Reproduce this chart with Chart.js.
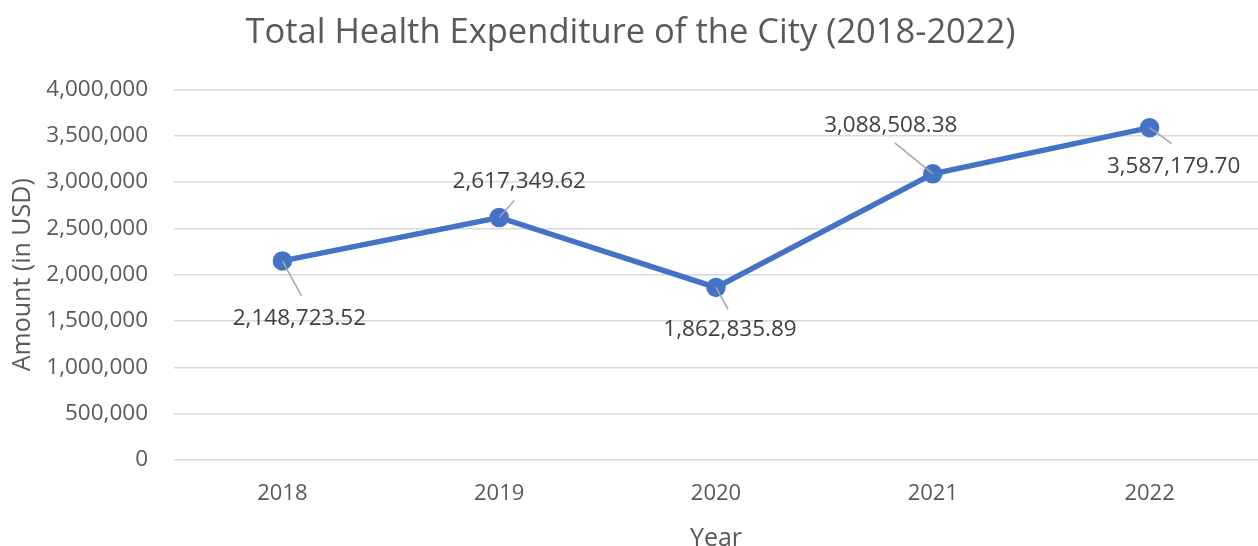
<!DOCTYPE html>
<html>
<head>
<meta charset="utf-8">
<script src="https://cdn.jsdelivr.net/npm/chart.js@4/dist/chart.umd.min.js"></script>
<style>
html,body{margin:0;padding:0;background:#fff;}
#wrap{width:1258px;height:546px;position:relative;}
</style>
</head>
<body>
<div id="wrap"><canvas id="c" width="1258" height="546"></canvas></div>
<script>
const categories = ["2018", "2019", "2020", "2021", "2022"];
const expenditure = [2148723.52, 2617349.62, 1862835.89, 3088508.38, 3587179.70];
const yTicks = [0, 500000, 1000000, 1500000, 2000000, 2500000, 3000000, 3500000, 4000000];

const FONT = "'Open Sans', 'Noto Sans', sans-serif";

// label placement (pixel offsets from point): [dx, dy, lineEndDx, lineEndDy]
const labelPlacement = [
  [17, 58, 19, 35],
  [20, -36, 15, -17],
  [14, 42, 12, 22],
  [-42, -48, -38, -31],
  [24, 39, 22, 16]
];

const labelPlugin = {
  id: 'dataLabels',
  afterDatasetsDraw(chart) {
    const ctx = chart.ctx;
    const meta = chart.getDatasetMeta(0);
    ctx.save();
    meta.data.forEach((pt, i) => {
      const p = labelPlacement[i];
      ctx.strokeStyle = '#a6a6a6';
      ctx.lineWidth = 1.5;
      ctx.beginPath();
      ctx.moveTo(pt.x, pt.y);
      ctx.lineTo(pt.x + p[2], pt.y + p[3]);
      ctx.stroke();
      ctx.fillStyle = '#404040';
      ctx.font = "22.5px " + FONT;
      ctx.textAlign = 'center';
      ctx.textBaseline = 'middle';
      const v = expenditure[i].toLocaleString('en-US', {minimumFractionDigits: 2, maximumFractionDigits: 2});
      ctx.fillText(v, pt.x + p[0], pt.y + p[1]);
    });
    ctx.restore();
  }
};

new Chart(document.getElementById('c'), {
  type: 'line',
  data: {
    labels: categories,
    datasets: [{
      data: expenditure,
      borderColor: '#4472C4',
      backgroundColor: '#4472C4',
      borderWidth: 5.5,
      pointRadius: 7,
      pointBackgroundColor: '#4472C4',
      pointBorderColor: '#4472C4',
      tension: 0,
      clip: false
    }]
  },
  options: {
    responsive: false,
    animation: false,
    layout: { autoPadding: false, padding: { left: 0, right: -3, top: 0, bottom: 0 } },
    plugins: {
      legend: { display: false },
      tooltip: { enabled: false },
      title: {
        display: true,
        text: 'Total Health Expenditure of the City (2018-2022)',
        color: '#595959',
        font: { family: FONT, size: 34.5, weight: 'normal' },
        padding: { top: 12, bottom: 36 }
      }
    },
    scales: {
      x: {
        offset: true,
        grid: { display: false, drawTicks: false },
        border: { display: false },
        ticks: { color: '#595959', font: { family: FONT, size: 22 }, padding: 21 },
        title: { display: true, text: 'Year', color: '#595959', font: { family: FONT, size: 25 }, padding: { top: 4, bottom: -8 } },
        afterFit(s) { s.height = 86; s.paddingLeft = 0; s.paddingRight = 0; }
      },
      y: {
        min: 0, max: 4000000,
        afterBuildTicks(s) { s.ticks = yTicks.map(v => ({ value: v })); },
        grid: { color: '#d9d9d9', lineWidth: 1.5, drawTicks: false },
        border: { display: false },
        ticks: {
          color: '#595959', font: { family: FONT, size: 22.5 }, padding: 26,
          callback: v => v.toLocaleString('en-US')
        },
        title: { display: true, text: 'Amount (in USD)', color: '#595959', font: { family: FONT, size: 25 }, padding: { top: 8, bottom: 0 } },
        afterFit(s) { s.width = 174; }
      }
    }
  },
  plugins: [labelPlugin]
});
</script>
</body>
</html>
